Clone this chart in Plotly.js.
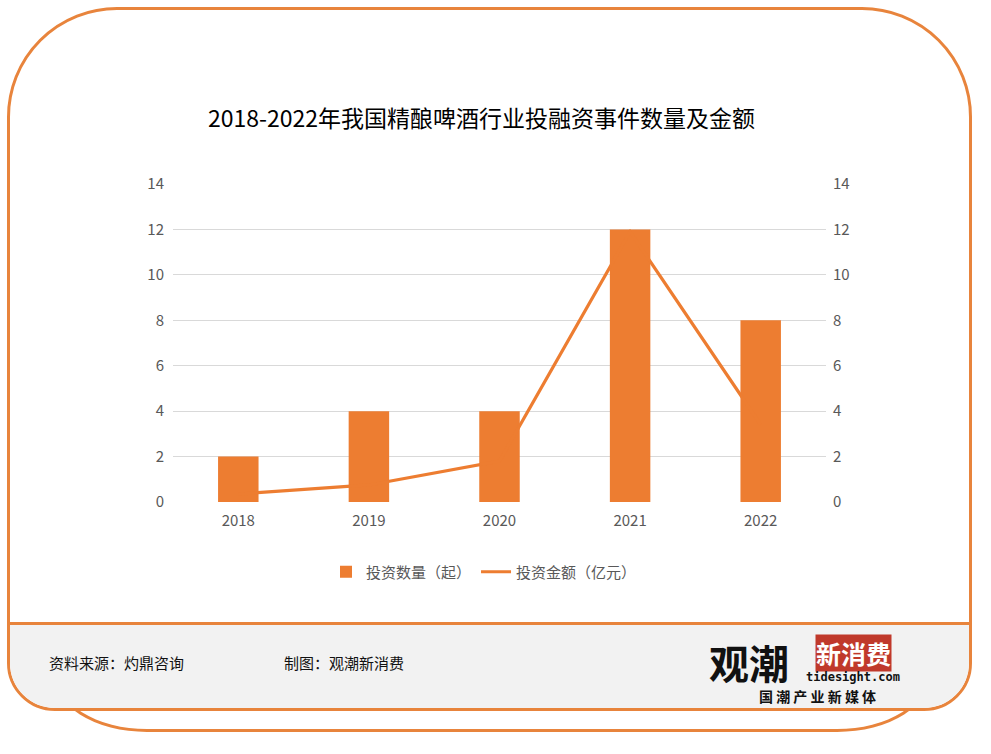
<!DOCTYPE html>
<html>
<head>
<meta charset="utf-8">
<script src="https://cdn.plot.ly/plotly-3.0.1.min.js"></script>
<style>
  html, body { margin:0; padding:0; background:#ffffff; }
  #wrap { position:relative; width:991px; height:754px; overflow:hidden; background:#fff; }
  #back { position:absolute; left:52px; top:560px; width:880px; height:172px;
          border:3px solid #E8843C; border-radius:0 0 95px 95px / 0 0 60px 60px; background:#fff; box-sizing:border-box; }
  #frame { position:absolute; left:7px; top:7px; width:965px; height:704px; box-sizing:border-box;
           border:3px solid #E8843C; border-radius:110px 110px 48px 48px / 110px 110px 48px 48px; background:#fff; overflow:hidden; }
  #foot { position:absolute; left:0; top:612px; width:100%; height:100px; background:#F2F2F2; border-top:3px solid #E8843C; }
  #chart { position:absolute; left:0; top:0; width:991px; height:754px; }
</style>
</head>
<body>
<div id="wrap">
  <div id="back"></div>
  <div id="frame"><div id="foot"></div></div>
  <div id="chart"></div>
</div>
<script>
const categories = ['2018', '2019', '2020', '2021', '2022'];
const dealCounts = [2, 4, 4, 12, 8];
const dealAmounts = [0.35, 0.75, 1.8, 11.9, 3.4];
const yTicks = [0, 2, 4, 6, 8, 10, 12, 14];
const seriesNames = ['投资数量（起）', '投资金额（亿元）'];
const chartTitle = '2018-2022年我国精酿啤酒行业投融资事件数量及金额';
const sourceText = '资料来源：灼鼎咨询';
const makerText = '制图：观潮新消费';

const orange = '#ED7D31';
const cjk = '"Noto Sans CJK SC", sans-serif';
const tickFont = {family: '"Noto Sans CJK SC", "Noto Sans", sans-serif', size: 15, color: '#595959'};

const traces = [
  {type: 'bar', x: categories, y: dealCounts, name: seriesNames[0],
   marker: {color: orange}, width: 0.31, yaxis: 'y', hoverinfo: 'none'},
  {type: 'scatter', mode: 'lines', x: categories, y: dealAmounts, name: seriesNames[1],
   line: {color: orange, width: 3.2}, yaxis: 'y2', hoverinfo: 'none'}
];

function px(x) { return (x - 173) / 653; }
function py(y) { return (502 - y) / 318; }

const layout = {
  width: 991, height: 754,
  paper_bgcolor: 'rgba(0,0,0,0)', plot_bgcolor: 'rgba(0,0,0,0)',
  margin: {l: 173, r: 165, t: 184, b: 252},
  showlegend: true,
  legend: {orientation: 'h', x: px(484), xanchor: 'center', y: py(572), yanchor: 'middle',
           font: {family: cjk, size: 15, color: '#595959'}, bgcolor: 'rgba(0,0,0,0)',
           itemwidth: 30, tracegroupgap: 0},
  xaxis: {type: 'category', tickfont: tickFont, showgrid: false, zeroline: false,
          showline: false, ticks: '', ticklabelstandoff: 8, fixedrange: true},
  yaxis: {range: [0, 14], tickvals: yTicks, tickfont: tickFont, showgrid: true,
          gridcolor: '#D9D9D9', gridwidth: 1.2, zeroline: false, showline: false, ticks: '',
          ticklabelstandoff: 8, fixedrange: true},
  yaxis2: {range: [0, 14], tickvals: yTicks, tickfont: tickFont, overlaying: 'y', side: 'right',
           showgrid: false, zeroline: false, showline: false, ticks: '', ticklabelstandoff: 6,
           fixedrange: true},
  annotations: [
    {text: chartTitle, xref: 'paper', yref: 'paper', x: px(481), y: py(117),
     xanchor: 'center', yanchor: 'middle', showarrow: false,
     font: {family: cjk, size: 23, color: '#000000'}},
    {text: sourceText, xref: 'paper', yref: 'paper', x: px(47), y: py(662),
     xanchor: 'left', yanchor: 'middle', showarrow: false,
     font: {family: cjk, size: 15, color: '#111111'}},
    {text: makerText, xref: 'paper', yref: 'paper', x: px(282), y: py(662),
     xanchor: 'left', yanchor: 'middle', showarrow: false,
     font: {family: cjk, size: 15, color: '#111111'}},
    {text: '<b>观潮</b>', xref: 'paper', yref: 'paper', x: px(749), y: py(662),
     xanchor: 'center', yanchor: 'middle', showarrow: false,
     font: {family: cjk, size: 40, color: '#111111'}},
    {text: '<b>新消费</b>', xref: 'paper', yref: 'paper', x: px(853), y: py(653),
     xanchor: 'center', yanchor: 'middle', showarrow: false, bgcolor: '#C0392B',
     borderpad: 0, font: {family: cjk, size: 25, color: '#ffffff'}},
    {text: '<b>tidesight.com</b>', xref: 'paper', yref: 'paper', x: px(853), y: py(677),
     xanchor: 'center', yanchor: 'middle', showarrow: false,
     font: {family: '"DejaVu Sans Mono", monospace', size: 12, color: '#111111'}},
    {text: '<b>国 潮 产 业 新 媒 体</b>', xref: 'paper', yref: 'paper', x: px(817), y: py(696),
     xanchor: 'center', yanchor: 'middle', showarrow: false,
     font: {family: cjk, size: 14, color: '#111111'}}
  ]
};

Plotly.newPlot('chart', traces, layout, {displayModeBar: false, staticPlot: true});
</script>
</body>
</html>
